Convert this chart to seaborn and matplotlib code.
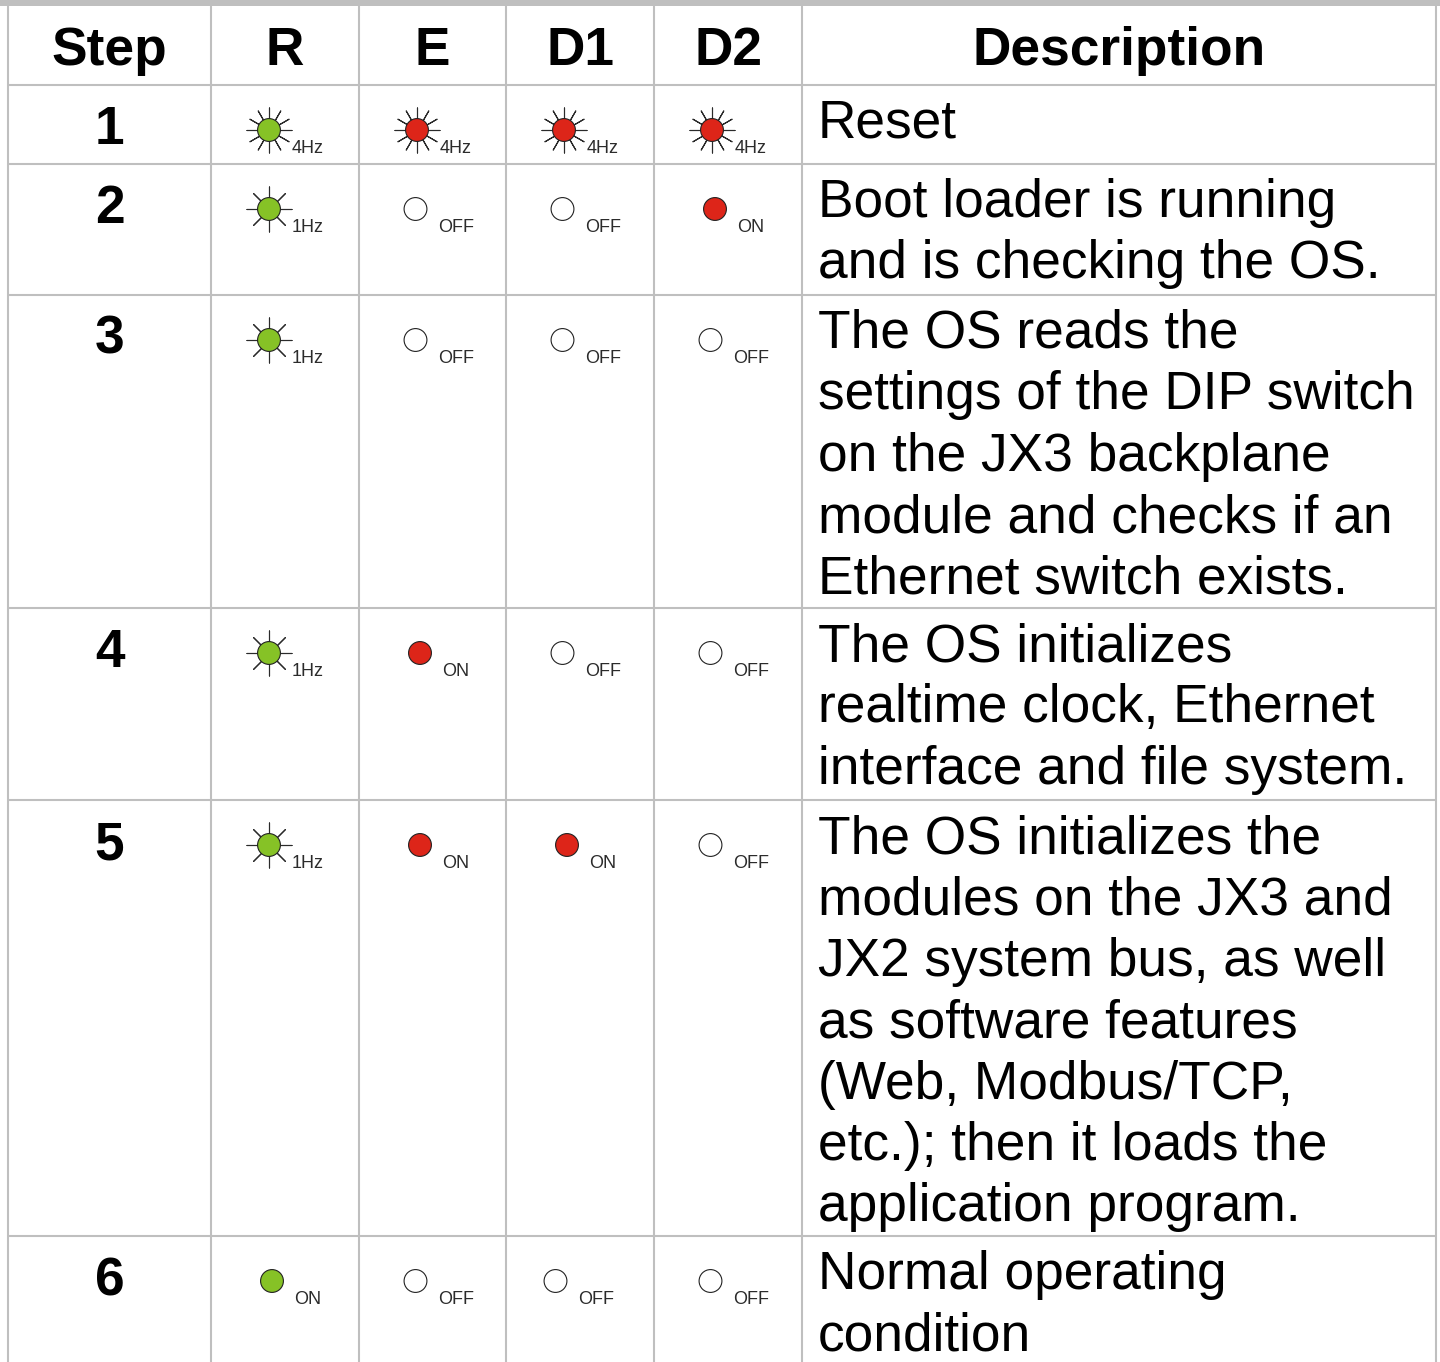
import pandas as pd
import seaborn as sns
import matplotlib.pyplot as plt

# ------------------ DATA ------------------ #

headers = ["Step", "R", "E", "D1", "D2", "Description"]
steps = ["1", "2", "3", "4", "5", "6"]
channels = ["R", "E", "D1", "D2"]

r_states = ["4Hz", "1Hz", "1Hz", "1Hz", "1Hz", "ON"]
e_states = ["4Hz", "OFF", "OFF", "ON", "ON", "OFF"]
d1_states = ["4Hz", "OFF", "OFF", "OFF", "ON", "OFF"]
d2_states = ["4Hz", "ON", "OFF", "OFF", "OFF", "OFF"]

descriptions = [
    ["Reset"],
    ["Boot loader is running", "and is checking the OS."],
    ["The OS reads the", "settings of the DIP switch", "on the JX3 backplane",
     "module and checks if an", "Ethernet switch exists."],
    ["The OS initializes", "realtime clock, Ethernet", "interface and file system."],
    ["The OS initializes the", "modules on the JX3 and", "JX2 system bus, as well",
     "as software features", "(Web, Modbus/TCP,", "etc.); then it loads the",
     "application program."],
    ["Normal operating", "condition"],
]

# ------------------ LAYOUT (pixels) ------------------ #

col_edges = [8, 211, 359, 506, 654, 802, 1436]
row_edges = [6, 85, 164, 295, 608, 800, 1236]
line_step = 61.4
led_dx = {"4Hz": 58, "1Hz": 58, "ON": 61, "OFF": 56.5}
led_colors = {"R": "#86c226", "E": "#dd2519", "D1": "#dd2519", "D2": "#dd2519"}
grid_color = "#bfbfbf"
font = ["Liberation Sans", "DejaVu Sans"]

# ------------------ TABLE OF LEDS ------------------ #

rows = []
for channel, states in zip(channels, [r_states, e_states, d1_states, d2_states]):
    left = col_edges[channels.index(channel) + 1]
    for i, state in enumerate(states):
        nudge = -7 if (channel == "D1" and steps[i] == "6") else 0
        rows.append({
            "x": left + led_dx[state] + nudge,
            "y": row_edges[i + 1] + 45,
            "label_x": left + 97 + nudge,
            "label_y": row_edges[i + 1] + 68,
            "state": state,
            "fill": "#ffffff" if state == "OFF" else led_colors[channel],
        })
df = pd.DataFrame(rows)

# ------------------ FIGURE ------------------ #

sns.set_theme(style="white")
plt.rcParams["font.family"] = font

fig = plt.figure(figsize=(14.4, 13.62), dpi=100)
ax = fig.add_axes([0, 0, 1, 1])

# grid lines
ax.axhspan(0, row_edges[0], color=grid_color, lw=0, zorder=1)
ax.hlines(row_edges[1:], col_edges[0], col_edges[-1], color=grid_color, lw=1.5, zorder=1)
ax.vlines(col_edges, 0, 1362, color=grid_color, lw=1.5, zorder=1)

# rays of the blinking LEDs
sns.scatterplot(data=df[df["state"] == "4Hz"], x="x", y="y", marker=(12, 2, 0), s=1050,
                color="#2a2a2a", linewidth=0.8, legend=False, ax=ax, zorder=2)
sns.scatterplot(data=df[df["state"] == "1Hz"], x="x", y="y", marker=(8, 2, 0), s=1050,
                color="#2a2a2a", linewidth=0.8, legend=False, ax=ax, zorder=2)

# LED discs
sns.scatterplot(data=df, x="x", y="y", hue="fill", palette={c: c for c in df["fill"].unique()},
                marker="o", s=270, edgecolor="#222222", linewidth=0.8, legend=False, ax=ax, zorder=3)
ax.set_xlim(0, 1440)
ax.set_ylim(1362, 0)
ax.axis("off")

# LED captions
for _, r in df.iterrows():
    ax.text(r["label_x"], r["label_y"], r["state"], fontsize=13, color="#2b2b2b",
            ha="center", va="baseline", zorder=4)

# header
for i, name in enumerate(headers):
    ax.text((col_edges[i] + col_edges[i + 1]) / 2, 65, name, fontsize=38.3, fontweight="bold",
            color="black", ha="center", va="baseline", zorder=4)

# step numbers and descriptions
for i, step in enumerate(steps):
    top = row_edges[i + 1]
    ax.text((col_edges[0] + col_edges[1]) / 2, top + 59, step, fontsize=38.3, fontweight="bold",
            color="black", ha="center", va="baseline", zorder=4)
    for j, line in enumerate(descriptions[i]):
        ax.text(col_edges[5] + 16, top + 53 + j * line_step, line, fontsize=38.3, color="black",
                ha="left", va="baseline", zorder=4)

fig.savefig("out.png", dpi=100)
plt.close(fig)
